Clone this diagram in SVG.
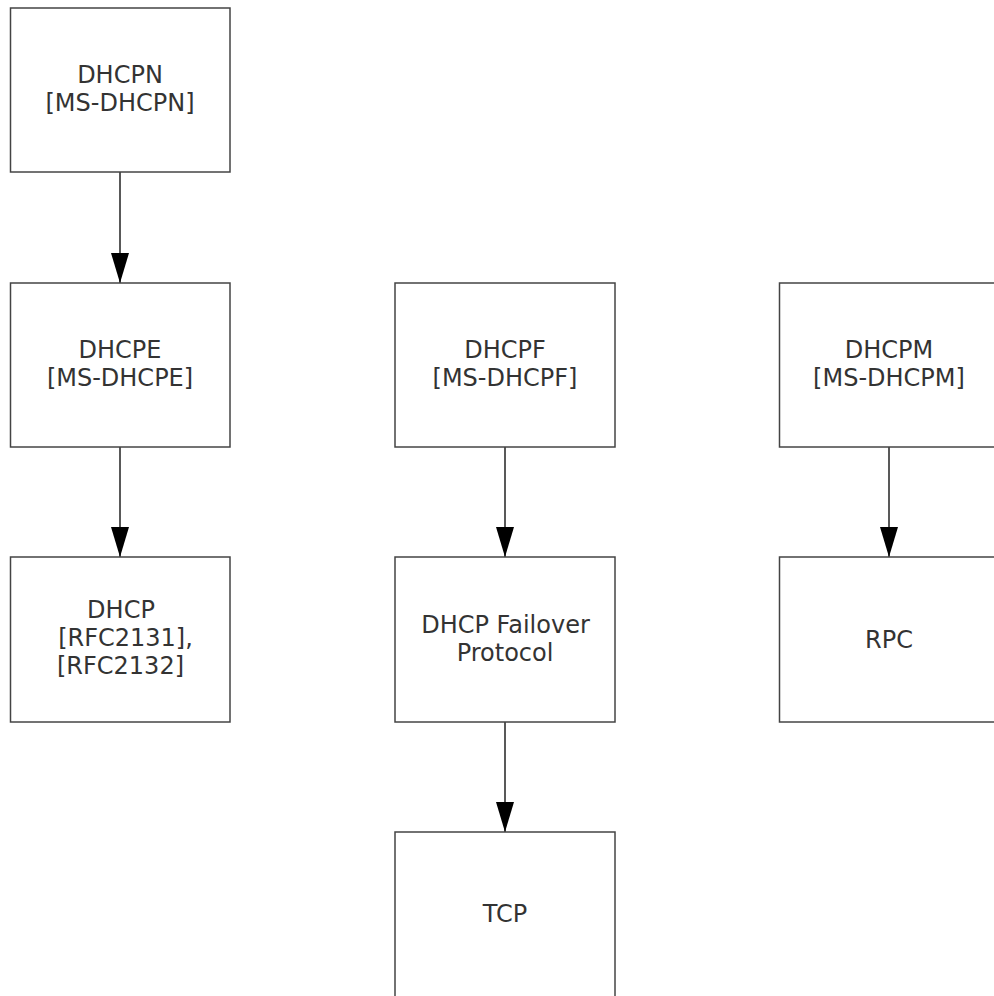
<svg xmlns="http://www.w3.org/2000/svg" width="994" height="996" viewBox="0 0 994 996">
<style>
.box{fill:#fff;stroke:#444;stroke-width:1.5}
.lbl{font-family:"DejaVu Sans",Verdana,sans-serif;font-size:24px;fill:#333;text-anchor:middle}
.conn{stroke:#222;stroke-width:1.5;fill:none}
</style>
<defs>
<marker id="arr" viewBox="0 0 30 18" refX="30" refY="9" markerWidth="30" markerHeight="18" markerUnits="userSpaceOnUse" orient="auto">
<path d="M0,0 L30,9 L0,18 z" fill="#000"/>
</marker>
</defs>
<rect width="994" height="996" fill="#fff"/>
<g id="connectors">
<line class="conn" x1="120" y1="172" x2="120" y2="283" marker-end="url(#arr)"/>
<line class="conn" x1="120" y1="447" x2="120" y2="557" marker-end="url(#arr)"/>
<line class="conn" x1="505" y1="447" x2="505" y2="557" marker-end="url(#arr)"/>
<line class="conn" x1="505" y1="722" x2="505" y2="832" marker-end="url(#arr)"/>
<line class="conn" x1="889" y1="447" x2="889" y2="557" marker-end="url(#arr)"/>
</g>
<g id="dhcpn">
<rect class="box" x="10.5" y="8" width="219.5" height="164"/>
<text class="lbl" x="120" y="83">DHCPN</text>
<text class="lbl" x="120" y="111">[MS-DHCPN]</text>
</g>
<g id="dhcpe">
<rect class="box" x="10.5" y="283" width="219.5" height="164"/>
<text class="lbl" x="120" y="358">DHCPE</text>
<text class="lbl" x="120" y="386">[MS-DHCPE]</text>
</g>
<g id="dhcp">
<rect class="box" x="10.5" y="557" width="219.5" height="165"/>
<text class="lbl" x="121" y="618">DHCP</text>
<text class="lbl" x="125.5" y="646">[RFC2131],</text>
<text class="lbl" x="120.5" y="674">[RFC2132]</text>
</g>
<g id="dhcpf">
<rect class="box" x="395" y="283" width="220" height="164"/>
<text class="lbl" x="505" y="358">DHCPF</text>
<text class="lbl" x="505" y="386">[MS-DHCPF]</text>
</g>
<g id="failover">
<rect class="box" x="395" y="557" width="220" height="165"/>
<text class="lbl" x="505.5" y="633">DHCP Failover</text>
<text class="lbl" x="505" y="661">Protocol</text>
</g>
<g id="tcp">
<rect class="box" x="395" y="832" width="220" height="170"/>
<text class="lbl" x="505" y="922">TCP</text>
</g>
<g id="dhcpm">
<rect class="box" x="779.5" y="283" width="220" height="164"/>
<text class="lbl" x="889" y="358">DHCPM</text>
<text class="lbl" x="889" y="386">[MS-DHCPM]</text>
</g>
<g id="rpc">
<rect class="box" x="779.5" y="557" width="220" height="165"/>
<text class="lbl" x="889" y="648">RPC</text>
</g>
</svg>
